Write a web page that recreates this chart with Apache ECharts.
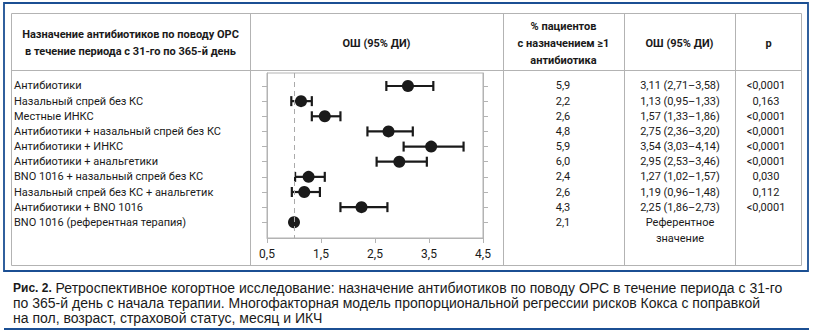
<!DOCTYPE html>
<html><head><meta charset="utf-8">
<script src="https://cdn.jsdelivr.net/npm/echarts@6/dist/echarts.min.js"></script>
<style>html,body{margin:0;padding:0;background:#fff}#c{width:813px;height:335px}</style>
</head><body><div id="c"></div>
<script>
const names = ['Антибиотики','Назальный спрей без КС','Местные ИНКС','Антибиотики + назальный спрей без КС','Антибиотики + ИНКС','Антибиотики + анальгетики','BNO 1016 + назальный спрей без КС','Назальный спрей без КС + анальгетик','Антибиотики + BNO 1016','BNO 1016 (референтная терапия)'];
const rows = [1,2,3,4,5,6,7,8,9,10];
const pctLabels = ['5,9','2,2','2,6','4,8','5,9','6,0','2,4','2,6','4,3','2,1'];
const orVals = [3.11,1.13,1.57,2.75,3.54,2.95,1.27,1.19,2.25,1.0];
const ciLow  = [2.71,0.95,1.33,2.36,3.03,2.53,1.02,0.96,1.86,null];
const ciHigh = [3.58,1.33,1.86,3.20,4.14,3.46,1.57,1.48,2.73,null];
const pLabels = ['<0,0001','0,163','<0,0001','<0,0001','<0,0001','<0,0001','0,030','0,112','<0,0001',''];
const refLabel = 'Референтное\nзначение';
const xTicks = [0.5,1.5,2.5,3.5,4.5];
const refLine = 1.0;

const fmt = v => v.toFixed(2).replace('.', ',');
const ciRows = rows.filter((r,i) => ciLow[i] != null);
const refRows = rows.filter((r,i) => ciLow[i] == null);
const orLabels = orVals.map((v,i) => ciLow[i] == null ? '' : fmt(v) + ' (' + fmt(ciLow[i]) + '–' + fmt(ciHigh[i]) + ')');
const refLabels = orVals.map((v,i) => ciLow[i] == null ? '\n' + refLabel : '');

const FN = 'Roboto,"Liberation Sans",sans-serif';
const FC = '"Liberation Sans",Arial,sans-serif';
const GRAY = '#b3b3b3';
const BLUE = '#1b4f93';
const TXT = '#1a1a1a';

const chart = echarts.init(document.getElementById('c'), null, {renderer:'svg'});

const gL = 267, gT = 73, gW = 216, gH = 165;
const rowLabel = (arr, margin, align, vals, lh) => ({
  show: true, customValues: vals || rows, margin: margin, align: align,
  showMinLabel: true, showMaxLabel: true, hideOverlap: false,
  fontFamily: FN, fontSize: 11, color: TXT, lineHeight: lh || 13,
  formatter: v => arr[Math.round(v) - 1]
});
const yBase = {type:'value', inverse:true, min:0.142, max:11.037, splitLine:{show:false}};

const vline = (x, y1, y2) => ({type:'line', shape:{x1:x,y1:y1,x2:x,y2:y2}, style:{stroke:GRAY,lineWidth:1}, silent:true});
const hline = (y, x1, x2, c, w) => ({type:'line', shape:{x1:x1,y1:y,x2:x2,y2:y}, style:{stroke:c||GRAY,lineWidth:w||1}, silent:true});
const htext = (x, y, t) => ({type:'text', x:x, y:y, style:{text:t, font:'bold 11px ' + FN, fill:TXT, textAlign:'center', textVerticalAlign:'middle', lineHeight:17}});

chart.setOption({
  animation:false,
  graphic:[
    {type:'rect', shape:{x:4,y:3,width:804,height:268}, style:{fill:'none', stroke:BLUE, lineWidth:1.8}},
    {type:'rect', shape:{x:11.5,y:13.5,width:790,height:252}, style:{fill:'none', stroke:GRAY, lineWidth:1}},
    hline(70.5, 11.5, 801.5),
    vline(250.5, 13.5, 265.5), vline(503.5, 13.5, 265.5), vline(624.5, 13.5, 265.5), vline(735.5, 13.5, 265.5),
    htext(130.5, 43, 'Назначение антибиотиков по поводу ОРС\nв течение периода с 31-го по 365-й день'),
    htext(376.5, 43, 'ОШ (95% ДИ)'),
    htext(563.5, 43, '% пациентов\nс назначением ≥1\nантибиотика'),
    htext(679.5, 43, 'ОШ (95% ДИ)'),
    htext(768.5, 43, 'p'),
    {type:'text', x:13, y:280.5, style:{
      text:'{b|Рис. 2.} Ретроспективное когортное исследование: назначение антибиотиков по поводу ОРС в течение периода с 31-го\nпо 365-й день с начала терапии. Многофакторная модель пропорциональной регрессии рисков Кокса с поправкой\nна пол, возраст, страховой статус, месяц и ИКЧ',
      font:'14px ' + FC, fill:TXT, textVerticalAlign:'top', lineHeight:15,
      rich:{b:{fontWeight:'bold', font:'bold 14px ' + FC, fill:TXT}}}},
    hline(329, 4, 809, BLUE, 1.8)
  ],
  grid:{left:gL, top:gT, width:gW, height:gH, show:true, borderColor:GRAY, borderWidth:1, containLabel:false},
  xAxis:{type:'value', min:0.5, max:4.5,
    axisLine:{lineStyle:{color:GRAY}},
    axisTick:{show:true, customValues:xTicks, length:5, lineStyle:{color:GRAY}},
    axisLabel:{customValues:xTicks, margin:10, showMinLabel:true, showMaxLabel:true, fontFamily:FN, fontSize:12, color:TXT, formatter:v => String(v).replace('.', ',')},
    splitLine:{show:false}},
  yAxis:[
    Object.assign({}, yBase, {position:'left', axisLine:{show:true, lineStyle:{color:GRAY}},
      axisTick:{show:true, customValues:rows, length:5, lineStyle:{color:GRAY}},
      axisLabel:rowLabel(names, 253, 'left')}),
    Object.assign({}, yBase, {position:'right', axisLine:{show:true, lineStyle:{color:GRAY}},
      axisTick:{show:true, customValues:rows, length:5, lineStyle:{color:GRAY}},
      axisLabel:rowLabel(pctLabels, 80, 'center')}),
    Object.assign({}, yBase, {position:'right', axisLine:{show:false}, axisTick:{show:false},
      axisLabel:rowLabel(orLabels, 197, 'center', ciRows)}),
    Object.assign({}, yBase, {position:'right', axisLine:{show:false}, axisTick:{show:false},
      axisLabel:rowLabel(pLabels, 283, 'center', ciRows)}),
    Object.assign({}, yBase, {position:'right', axisLine:{show:false}, axisTick:{show:false},
      axisLabel:rowLabel(refLabels, 197, 'center', refRows, 16)})
  ],
  series:[
    {type:'custom', yAxisIndex:0,
      data: ciRows.map(r => [ciLow[r-1], ciHigh[r-1], r]),
      renderItem:(params, api) => {
        const a = api.coord([api.value(0), api.value(2)]);
        const b = api.coord([api.value(1), api.value(2)]);
        const h = 5, st = {stroke:'#1a1a1a', lineWidth:2.2};
        return {type:'group', children:[
          {type:'line', shape:{x1:a[0],y1:a[1],x2:b[0],y2:b[1]}, style:st},
          {type:'line', shape:{x1:a[0],y1:a[1]-h,x2:a[0],y2:a[1]+h}, style:st},
          {type:'line', shape:{x1:b[0],y1:b[1]-h,x2:b[0],y2:b[1]+h}, style:st}
        ]};
      }, z:2},
    {type:'scatter', yAxisIndex:0, symbol:'circle', symbolSize:12,
      itemStyle:{color:'#1a1a1a', opacity:1},
      data: rows.map((r,i) => [orVals[i], r]), z:3,
      markLine:{silent:true, symbol:'none', label:{show:false},
        lineStyle:{color:'#aaaaaa', type:[5,4], width:1},
        data:[{xAxis:refLine}]}}
  ]
});
</script></body></html>
